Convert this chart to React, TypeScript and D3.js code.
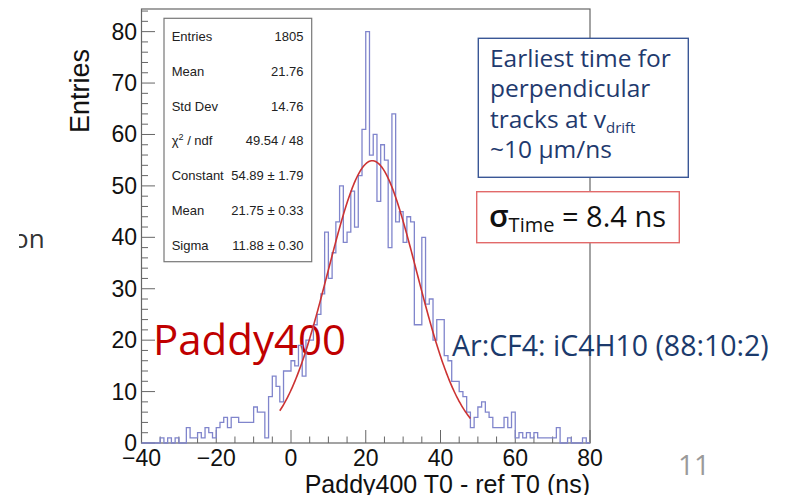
import React from "react";
import * as d3 from "d3";

// ---- data ----
const binLow = -40;
const binHigh = 80;
const counts = [
  // -40 .. -31
  0, 0, 0, 0, 0, 1, 0, 1, 0, 1,
  // -30 .. -21
  0, 0, 3, 1, 1, 2, 1, 3, 2, 1,
  // -20 .. -11
  3, 4, 5, 3, 5, 5, 4, 4, 4, 4,
  // -10 .. -1
  7, 6, 6, 1, 9, 13, 11, 8, 14, 14,
  // 0 .. 9
  16, 15, 19, 13, 20, 20, 23, 25, 29, 41,
  // 10 .. 19
  32, 37, 43, 50, 39, 41, 49, 42, 52, 61,
  // 20 .. 29
  80, 56, 60, 47, 58, 55, 38, 64, 43, 45,
  // 30 .. 39
  39, 44, 43, 23, 23, 40, 27, 28, 20, 24,
  // 40 .. 49
  24, 17, 16, 12, 12, 10, 9, 6, 3, 5,
  // 50 .. 59
  7, 8, 6, 5, 3, 3, 3, 5, 3, 6,
  // 60 .. 69
  1, 2, 1, 2, 1, 2, 1, 1, 1, 1,
  // 70 .. 79
  1, 3, 0, 0, 1, 0, 0, 0, 1, 0,
];
const yMax = 84.4;
const yTicks = [0, 10, 20, 30, 40, 50, 60, 70, 80];
const xTicks = [-40, -20, 0, 20, 40, 60, 80];
const statsLabels = ["Entries", "Mean", "Std Dev", "CHI", "Constant", "Mean", "Sigma"];
const statsValues = ["1805", "21.76", "14.76", "49.54 / 48", "54.89 ± 1.79", "21.75 ± 0.33", "11.88 ± 0.30"];
const fitConstant = 54.89;
const fitMean = 21.75;
const fitSigma = 11.88;
const fitRange = [-3, 48];
const boxLines = ["Earliest time for", "perpendicular", "tracks at v", "~10 μm/ns"];

const W = 786;
const H = 495;

export default function App() {
  const x = d3.scaleLinear().domain([binLow, binHigh]).range([141.5, 590]);
  const y = d3.scaleLinear().domain([0, yMax]).range([443, 9]);
  const n = counts.length;
  const bw = (binHigh - binLow) / n;

  const pts: [number, number][] = [[binLow, 0]];
  counts.forEach((c, i) => pts.push([binLow + i * bw, c]));
  pts.push([binHigh, counts[n - 1]]);
  pts.push([binHigh, 0]);
  const histPath = d3
    .line<[number, number]>()
    .x((d) => x(d[0]))
    .y((d) => y(d[1]))
    .curve(d3.curveStepAfter)(pts) as string;

  const fitPts: [number, number][] = d3.range(0, 201).map((i) => {
    const xv = fitRange[0] + ((fitRange[1] - fitRange[0]) * i) / 200;
    return [xv, fitConstant * Math.exp(-0.5 * ((xv - fitMean) / fitSigma) ** 2)];
  });
  const fitPath = d3
    .line<[number, number]>()
    .x((d) => x(d[0]))
    .y((d) => y(d[1]))
    .curve(d3.curveLinear)(fitPts) as string;

  const yMinor = d3.range(0, yMax, 2);
  const xMinor = d3.range(binLow, binHigh + 0.01, 5);
  const rootFont = "'Liberation Sans', Arial, Helvetica, sans-serif";
  const slideFont = "'Open Sans', 'Noto Sans', sans-serif";

  return (
    <svg
      width={W}
      height={H}
      viewBox={`0 0 ${W} ${H}`}
      style={{ position: "absolute", left: 0, top: 0, background: "#fff" }}
    >
      <defs>
        <clipPath id="leftclip">
          <rect x={19} y={0} width={100} height={H} />
        </clipPath>
      </defs>
      <rect x={0} y={0} width={W} height={H} fill="#fff" />

      {/* frame */}
      <rect x={141.5} y={9} width={448.5} height={434} fill="none" stroke="#666" strokeWidth={1.2} />

      {/* y axis ticks */}
      {yMinor.map((v) => (
        <line key={"ym" + v} x1={141.5} x2={v % 10 === 0 ? 155 : 148} y1={y(v)} y2={y(v)} stroke="#666" strokeWidth={1} />
      ))}
      {yTicks.map((v) => (
        <text key={"yt" + v} x={137} y={y(v) + 8} textAnchor="end" fontFamily={rootFont} fontSize={23} fill="#111">
          {v}
        </text>
      ))}
      {/* x axis ticks */}
      {xMinor.map((v) => (
        <line key={"xm" + v} x1={x(v)} x2={x(v)} y1={443} y2={v % 20 === 0 ? 430 : 436.5} stroke="#666" strokeWidth={1} />
      ))}
      {xTicks.map((v) => (
        <text key={"xt" + v} x={x(v)} y={466} textAnchor="middle" fontFamily={rootFont} fontSize={23} fill="#111">
          {v < 0 ? "\u2212" + Math.abs(v) : v}
        </text>
      ))}

      {/* axis titles */}
      <text
        transform="translate(89,91) rotate(-90)"
        textAnchor="middle"
        fontFamily={rootFont}
        fontSize={27}
        fill="#111"
      >
        Entries
      </text>
      <text x={590} y={493} textAnchor="end" fontFamily={rootFont} fontSize={25} fill="#111">
        Paddy400 T0 - ref T0 (ns)
      </text>

      {/* slide label */}
      <text x={153} y={355} fontFamily={slideFont} fontSize={42} fill="#c00000">
        Paddy400
      </text>

      {/* histogram */}
      <path d={histPath} fill="none" stroke="#8085cc" strokeWidth={1.3} />
      <path d={fitPath} fill="none" stroke="#cc3333" strokeWidth={1.6} />

      {/* stats box */}
      <rect x={164} y={18.3} width={147.7} height={243.4} fill="#fff" stroke="#777" strokeWidth={1.2} />
      {statsLabels.map((lab, i) => {
        const cy = 36.7 + i * 34.75;
        return (
          <g key={"st" + i} fontFamily={rootFont} fontSize={13} fill="#222">
            {lab === "CHI" ? (
              <text x={171.7} y={cy + 4.5}>
                χ
                <tspan dy={-5} fontSize={9}>2</tspan>
                <tspan dy={5}> / ndf</tspan>
              </text>
            ) : (
              <text x={171.7} y={cy + 4.5}>{lab}</text>
            )}
            <text x={303.5} y={cy + 4.5} textAnchor="end">
              {statsValues[i]}
            </text>
          </g>
        );
      })}

      {/* blue annotation box */}
      <rect x={478.3} y={38.3} width={210} height={139} fill="#fff" stroke="#3a5796" strokeWidth={1.4} />
      {boxLines.map((t, i) => (
        <text key={"bl" + i} x={490} y={66.5 + i * 30.5} fontFamily={slideFont} fontSize={24.5} fill="#1f3a6e">
          {t}
          {i === 2 ? (
            <tspan dy={5} fontSize={15}>drift</tspan>
          ) : null}
        </text>
      ))}

      {/* sigma box */}
      <rect x={476.7} y={191.7} width={202.6} height={51} fill="#fff" stroke="#e26a6a" strokeWidth={1.4} />
      <text x={489} y={227} fontFamily={slideFont} fill="#111">
        <tspan fontSize={31} fontWeight={600}>σ</tspan>
        <tspan fontSize={20} dy={5}>Time</tspan>
        <tspan fontSize={29} dy={-5}> = 8.4 ns</tspan>
      </text>

      {/* gas text */}
      <text x={452} y={356} fontFamily={slideFont} fontSize={28.5} fill="#1b3a6c">
        Ar:CF4: iC4H10 (88:10:2)
      </text>

      {/* page number */}
      <text x={678} y={475} fontFamily={slideFont} fontSize={28} fill="#9a9a9a">
        11
      </text>

      {/* clipped fragment on the left */}
      <text x={13} y={248} fontFamily={slideFont} fontSize={26} fill="#333" clipPath="url(#leftclip)">
        on
      </text>
    </svg>
  );
}
